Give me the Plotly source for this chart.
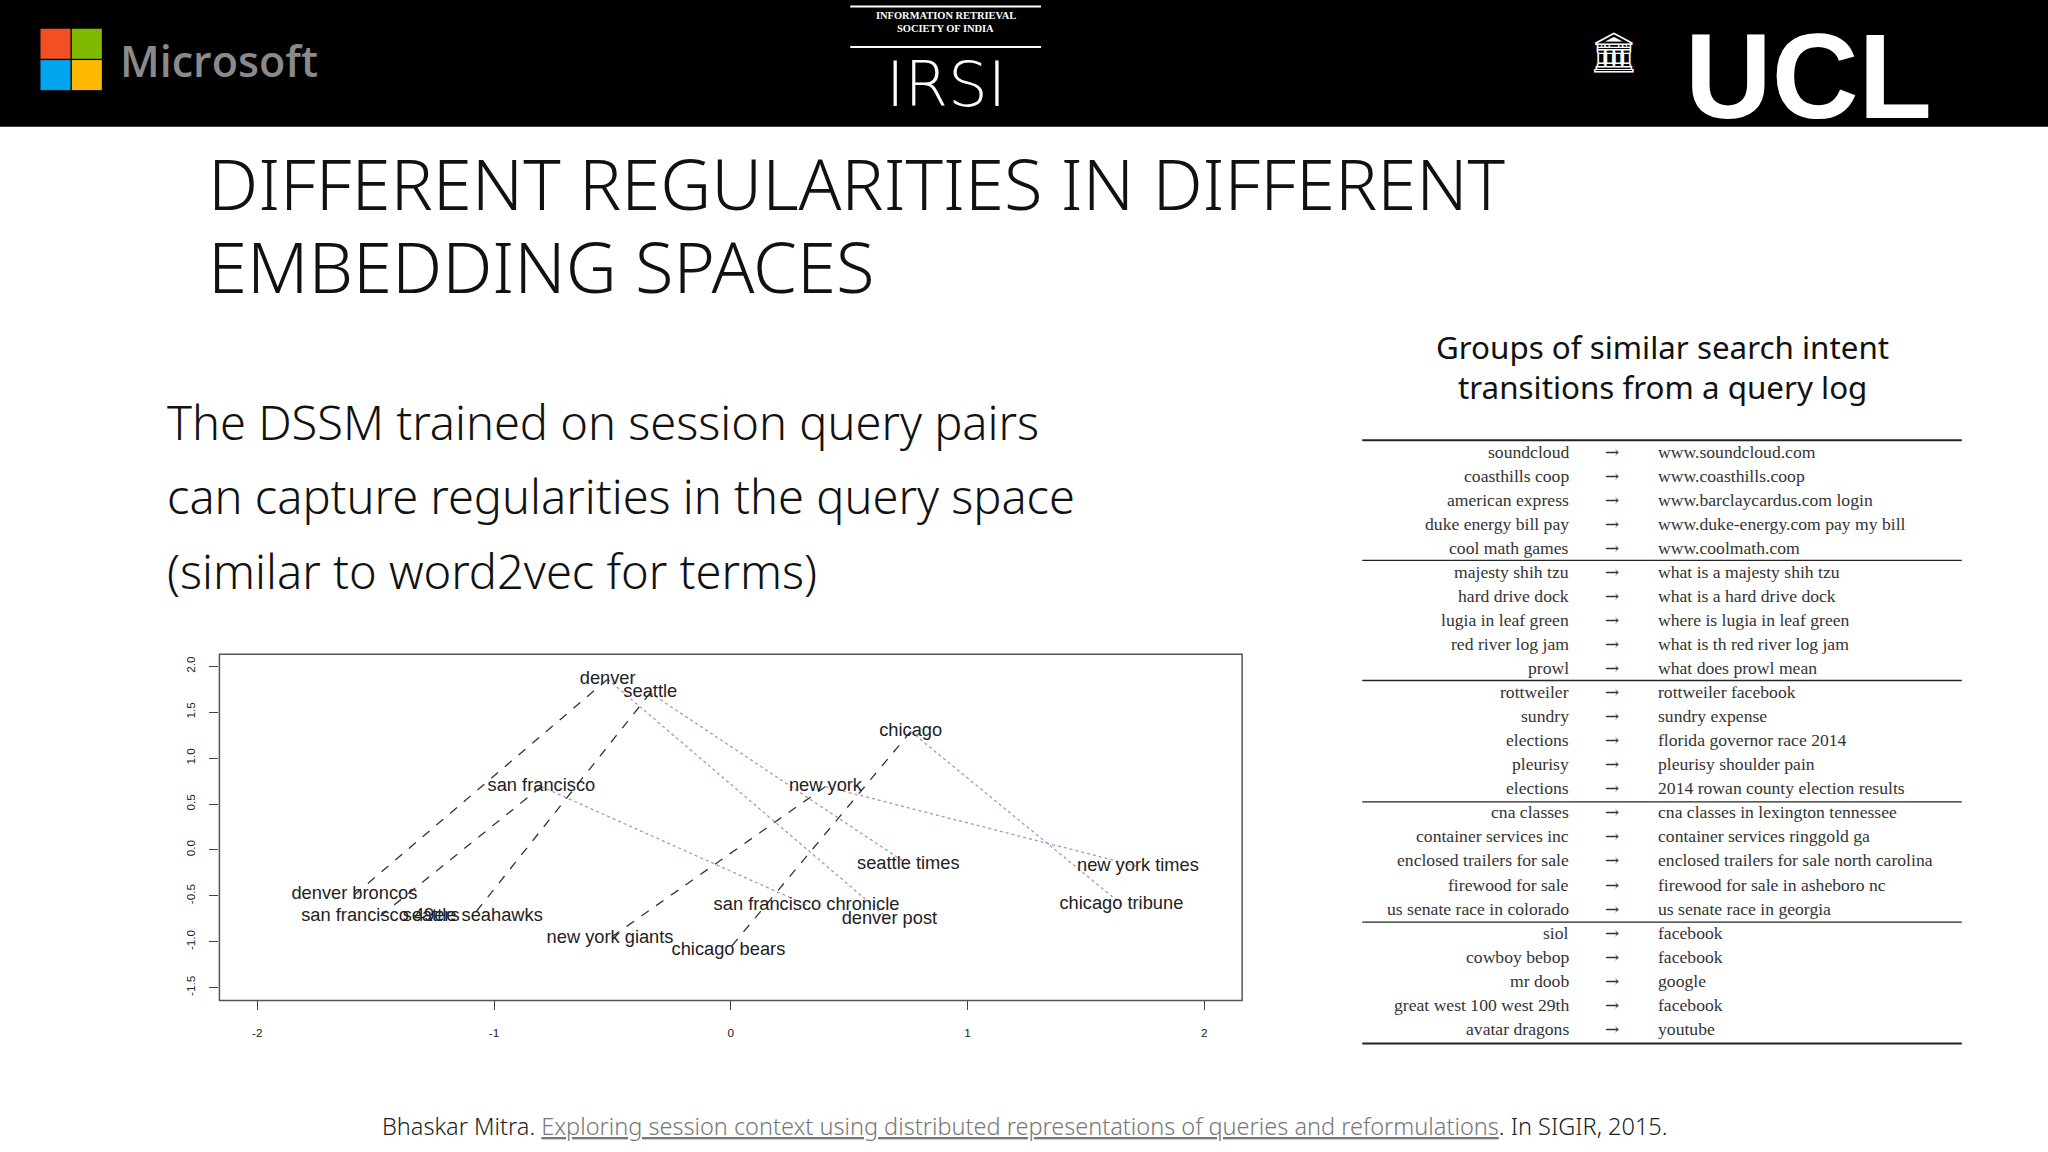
import plotly.graph_objects as go

W, H = 2048, 1152
DW, DH = 1568, 882
S = W / DW

def px(x): return x / DW
def py(y): return 1 - y / DH
def fs(s): return s * S

# ---- data ----
cities = ["denver", "seattle", "san francisco", "new york", "chicago"]
city_x = [-0.52, -0.34, -0.80, 0.40, 0.76]
city_y = [1.86, 1.71, 0.69, 0.69, 1.29]
teams = ["denver broncos", "seattle seahawks", "san francisco 49ers", "new york giants", "chicago bears"]
team_x = [-1.59, -1.09, -1.48, -0.51, -0.01]
team_y = [-0.49, -0.72, -0.72, -0.96, -1.09]
papers = ["denver post", "seattle times", "san francisco chronicle", "new york times", "chicago tribune"]
paper_x = [0.67, 0.75, 0.32, 1.72, 1.65]
paper_y = [-0.76, -0.16, -0.60, -0.18, -0.59]
x_ticks = [-2, -1, 0, 1, 2]
y_ticks = [-1.5, -1.0, -0.5, 0.0, 0.5, 1.0, 1.5, 2.0]

groups = [
    [("soundcloud", "www.soundcloud.com"), ("coasthills coop", "www.coasthills.coop"),
     ("american express", "www.barclaycardus.com login"), ("duke energy bill pay", "www.duke-energy.com pay my bill"),
     ("cool math games", "www.coolmath.com")],
    [("majesty shih tzu", "what is a majesty shih tzu"), ("hard drive dock", "what is a hard drive dock"),
     ("lugia in leaf green", "where is lugia in leaf green"), ("red river log jam", "what is th red river log jam"),
     ("prowl", "what does prowl mean")],
    [("rottweiler", "rottweiler facebook"), ("sundry", "sundry expense"),
     ("elections", "florida governor race 2014"), ("pleurisy", "pleurisy shoulder pain"),
     ("elections", "2014 rowan county election results")],
    [("cna classes", "cna classes in lexington tennessee"), ("container services inc", "container services ringgold ga"),
     ("enclosed trailers for sale", "enclosed trailers for sale north carolina"),
     ("firewood for sale", "firewood for sale in asheboro nc"), ("us senate race in colorado", "us senate race in georgia")],
    [("siol", "facebook"), ("cowboy bebop", "facebook"), ("mr doob", "google"),
     ("great west 100 west 29th", "facebook"), ("avatar dragons", "youtube")],
]

fig = go.Figure()

for i in range(5):
    fig.add_trace(go.Scatter(x=[city_x[i], team_x[i]], y=[city_y[i], team_y[i]], mode="lines",
                             line=dict(color="#333", width=1.3, dash="dash"), hoverinfo="skip", showlegend=False))
    fig.add_trace(go.Scatter(x=[city_x[i], paper_x[i]], y=[city_y[i], paper_y[i]], mode="lines",
                             line=dict(color="#b090c0", width=1.3, dash="dot"), hoverinfo="skip", showlegend=False))
fig.add_trace(go.Scatter(x=city_x + team_x + paper_x, y=city_y + team_y + paper_y, mode="text",
                         text=cities + teams + papers,
                         textfont=dict(family="Liberation Sans", size=fs(14), color="#222"),
                         hoverinfo="skip", showlegend=False))

fig.update_xaxes(domain=[px(168), px(951)], range=[-2.16, 2.16], tickvals=x_ticks,
                 ticktext=[str(v) for v in x_ticks], ticks="outside", ticklen=9, showgrid=False,
                 zeroline=False, showline=False, ticklabelstandoff=12,
                 tickfont=dict(family="Liberation Sans", size=fs(9), color="#222"))
fig.update_yaxes(domain=[py(766), py(501)], range=[-1.64, 2.13], tickvals=y_ticks,
                 ticktext=[f"{v:.1f}" for v in y_ticks], ticks="outside", ticklen=9, tickangle=-90,
                 showgrid=False, zeroline=False, showline=False, ticklabelstandoff=10,
                 tickfont=dict(family="Liberation Sans", size=fs(9), color="#222"))

shapes = []
shapes.append(dict(type="rect", xref="paper", yref="paper", x0=px(168), x1=px(951), y0=py(766), y1=py(501),
                   line=dict(color="#555", width=1.5)))
shapes.append(dict(type="rect", xref="paper", yref="paper", x0=0, x1=1, y0=py(97), y1=1,
                   fillcolor="black", line=dict(width=0), layer="below"))
for (x0, y0, c) in [(31, 22, "#f25022"), (55, 22, "#7fba00"), (31, 46, "#00a4ef"), (55, 46, "#ffb900")]:
    shapes.append(dict(type="rect", xref="paper", yref="paper", x0=px(x0), x1=px(x0 + 23),
                       y0=py(y0 + 23), y1=py(y0), fillcolor=c, line=dict(width=0)))
for yy in [5, 36]:
    shapes.append(dict(type="line", xref="paper", yref="paper", x0=px(651), x1=px(797), y0=py(yy), y1=py(yy),
                       line=dict(color="white", width=2)))
for k, yy in enumerate([337, 429, 521, 614, 706, 799]):
    shapes.append(dict(type="line", xref="paper", yref="paper", x0=px(1043), x1=px(1502), y0=py(yy), y1=py(yy),
                       line=dict(color="#222", width=2 if k in (0, 5) else 1.3)))

ann = []
def A(text, x, y, size, color="#111", family="Noto Sans", xanchor="left", weight=None, **kw):
    f = dict(family=family, size=fs(size), color=color)
    if weight: f["weight"] = weight
    ann.append(dict(text=text, x=px(x), y=py(y), xref="paper", yref="paper", xanchor=xanchor,
                    yanchor="middle", showarrow=False, font=f, **kw))

A("Microsoft", 90, 46, 33, color="#8a8a8a", family="Open Sans", weight=600)
A("INFORMATION RETRIEVAL", 724, 12, 8, color="white", family="Liberation Serif", xanchor="center", weight=700)
A("SOCIETY OF INDIA", 724, 22, 8, color="white", family="Liberation Serif", xanchor="center", weight=700)
A("IRSI", 724, 65, 48, color="white", family="DejaVu Sans", xanchor="center", weight=200)
A("🏛", 1236, 40, 30, color="white", family="DejaVu Sans", xanchor="center")
A("UCL", 1385, 58, 92, color="white", family="Liberation Sans", xanchor="center", weight=900)

A("DIFFERENT REGULARITIES IN DIFFERENT", 158, 140, 54, weight=300)
A("EMBEDDING SPACES", 158, 204, 54, weight=300)
for i, line in enumerate(["The DSSM trained on session query pairs",
                          "can capture regularities in the query space",
                          "(similar to word2vec for terms)"]):
    A(line, 126, 323 + 57 * i, 36, weight=300)

A("Groups of similar search intent", 1273, 265, 24, xanchor="center")
A("transitions from a query log", 1273, 296, 24, xanchor="center")

row = 0
for g in groups:
    for left, right in g:
        yy = 346 + row * 18.4
        A(left, 1203, yy, 13.5, family="Liberation Serif", xanchor="right", color="#333")
        A("→", 1234, yy, 13, family="DejaVu Serif", xanchor="center", color="#333")
        A(right, 1268, yy, 13.5, family="Liberation Serif", color="#333")
        row += 1

A("Bhaskar Mitra. <span style='color:#777'><u>Exploring session context using distributed representations of queries and reformulations</u></span>. In SIGIR, 2015.",
  784, 862, 18, xanchor="center", color="#222", weight=300)

fig.update_layout(width=W, height=H, margin=dict(l=0, r=0, t=0, b=0), paper_bgcolor="white",
                  plot_bgcolor="white", shapes=shapes, annotations=ann)
fig.write_html("out.html", config={"displayModeBar": False},
               post_script="document.body.style.margin='0';")
